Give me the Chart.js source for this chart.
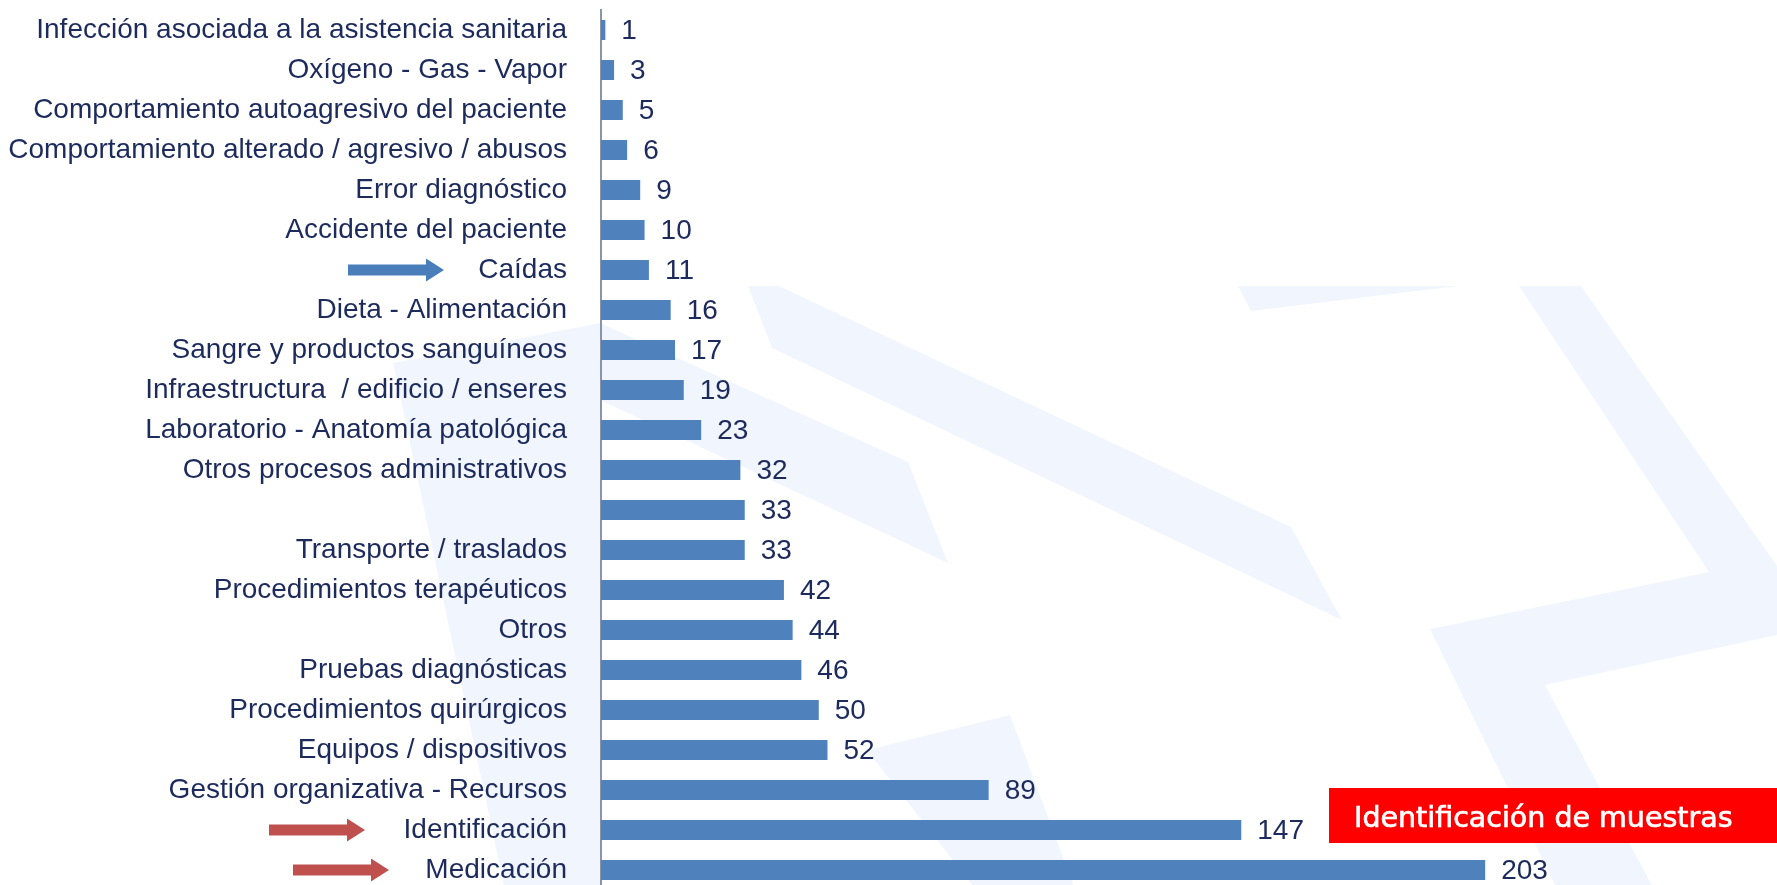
<!DOCTYPE html>
<html>
<head>
<meta charset="utf-8">
<script src="https://cdn.jsdelivr.net/npm/chart.js@4.4.0/dist/chart.umd.min.js"></script>
<style>
  html, body { margin: 0; padding: 0; background: #fff; overflow: hidden; }
  #wrap { position: relative; width: 1777px; height: 895px; }
</style>
</head>
<body>
<div id="wrap"><canvas id="chart"></canvas></div>
<script>
const categories = [
  'Infección asociada a la asistencia sanitaria',
  'Oxígeno - Gas - Vapor',
  'Comportamiento autoagresivo del paciente',
  'Comportamiento alterado / agresivo / abusos',
  'Error diagnóstico',
  'Accidente del paciente',
  'Caídas',
  'Dieta - Alimentación',
  'Sangre y productos sanguíneos',
  'Infraestructura  / edificio / enseres',
  'Laboratorio - Anatomía patológica',
  'Otros procesos administrativos',
  '',
  'Transporte / traslados',
  'Procedimientos terapéuticos',
  'Otros',
  'Pruebas diagnósticas',
  'Procedimientos quirúrgicos',
  'Equipos / dispositivos',
  'Gestión organizativa - Recursos',
  'Identificación',
  'Medicación'
];
const counts = [1, 3, 5, 6, 9, 10, 11, 16, 17, 19, 23, 32, 33, 33, 42, 44, 46, 50, 52, 89, 147, 203];

const navy = '#1c2a5c';
const barBlue = '#4f81bd';
const labelFont = '"Liberation Sans", Arial, sans-serif';

// faint logo shapes behind the chart
const watermark = [
  [[748, 286], [779, 286], [1291, 527], [1342, 620], [772, 348]],
  [[1238, 286], [1458, 286], [1251, 311]],
  [[1519, 286], [1581, 286], [1777, 566], [1777, 635], [1545, 685], [1657, 895], [1560, 895], [1430, 629], [1709, 572]],
  [[393, 363], [600, 323], [908, 462], [948, 563], [600, 400], [600, 895], [506, 895]],
  [[867, 750], [1010, 715], [1077, 895], [980, 895]]
];

const backdrop = {
  id: 'backdrop',
  beforeDraw(chart) {
    const ctx = chart.ctx;
    ctx.save();
    ctx.fillStyle = '#fff';
    ctx.fillRect(0, 0, chart.width, chart.height);
    ctx.fillStyle = '#f1f6fe';
    watermark.forEach(poly => {
      ctx.beginPath();
      poly.forEach(([x, y], i) => i ? ctx.lineTo(x, y) : ctx.moveTo(x, y));
      ctx.closePath();
      ctx.fill();
    });
    ctx.restore();
  }
};

const valueLabels = {
  id: 'valueLabels',
  afterDatasetsDraw(chart) {
    const ctx = chart.ctx;
    ctx.save();
    ctx.font = '28px ' + labelFont;
    ctx.fillStyle = navy;
    ctx.textBaseline = 'middle';
    chart.getDatasetMeta(0).data.forEach((bar, i) => {
      ctx.fillText(String(counts[i]), bar.x + 16, bar.y + 1);
    });
    ctx.restore();
  }
};

function arrow(ctx, x0, x1, y, color) {
  const shaft = 11, head = 23, headLen = 18;
  ctx.fillStyle = color;
  ctx.beginPath();
  ctx.moveTo(x0, y - shaft / 2);
  ctx.lineTo(x1 - headLen, y - shaft / 2);
  ctx.lineTo(x1 - headLen, y - head / 2);
  ctx.lineTo(x1, y);
  ctx.lineTo(x1 - headLen, y + head / 2);
  ctx.lineTo(x1 - headLen, y + shaft / 2);
  ctx.lineTo(x0, y + shaft / 2);
  ctx.closePath();
  ctx.fill();
}

const callouts = {
  id: 'callouts',
  afterDraw(chart) {
    const ctx = chart.ctx, y = chart.scales.y;
    ctx.save();
    arrow(ctx, 348, 444, y.getPixelForValue(categories.indexOf('Caídas')), '#4a7ebb');
    arrow(ctx, 269, 365, y.getPixelForValue(categories.indexOf('Identificación')), '#c0504d');
    arrow(ctx, 293, 389, y.getPixelForValue(categories.indexOf('Medicación')), '#c0504d');
    ctx.fillStyle = '#ff0000';
    ctx.fillRect(1329, 788, 448, 55);
    ctx.fillStyle = '#fff';
    ctx.strokeStyle = '#fff';
    ctx.lineWidth = 0.7;
    ctx.font = '28.5px "DejaVu Sans", sans-serif';
    ctx.textBaseline = 'alphabetic';
    ctx.fillText('Identificación de muestras', 1354, 827);
    ctx.strokeText('Identificación de muestras', 1354, 827);
    ctx.restore();
  }
};

new Chart(document.getElementById('chart'), {
  type: 'bar',
  data: {
    labels: categories,
    datasets: [{ data: counts, backgroundColor: barBlue, barPercentage: 0.5, categoryPercentage: 1 }]
  },
  options: {
    indexAxis: 'y',
    responsive: true,
    maintainAspectRatio: false,
    animation: false,
    layout: { padding: { top: 10, bottom: 5, left: 0, right: 0 } },
    plugins: { legend: { display: false }, tooltip: { enabled: false } },
    scales: {
      x: { display: false, min: 0, max: 270 },
      y: {
        grid: { display: false, drawTicks: false },
        border: { display: true, color: '#8a93a8', width: 2 },
        ticks: { color: navy, font: { family: labelFont, size: 28 }, padding: 34, autoSkip: false, crossAlign: 'near' },
        afterFit(scale) {
          scale.width = 601;
          scale.paddingTop = 0;
          scale.paddingBottom = 0;
        }
      }
    }
  },
  plugins: [backdrop, valueLabels, callouts]
});
</script>
</body>
</html>
